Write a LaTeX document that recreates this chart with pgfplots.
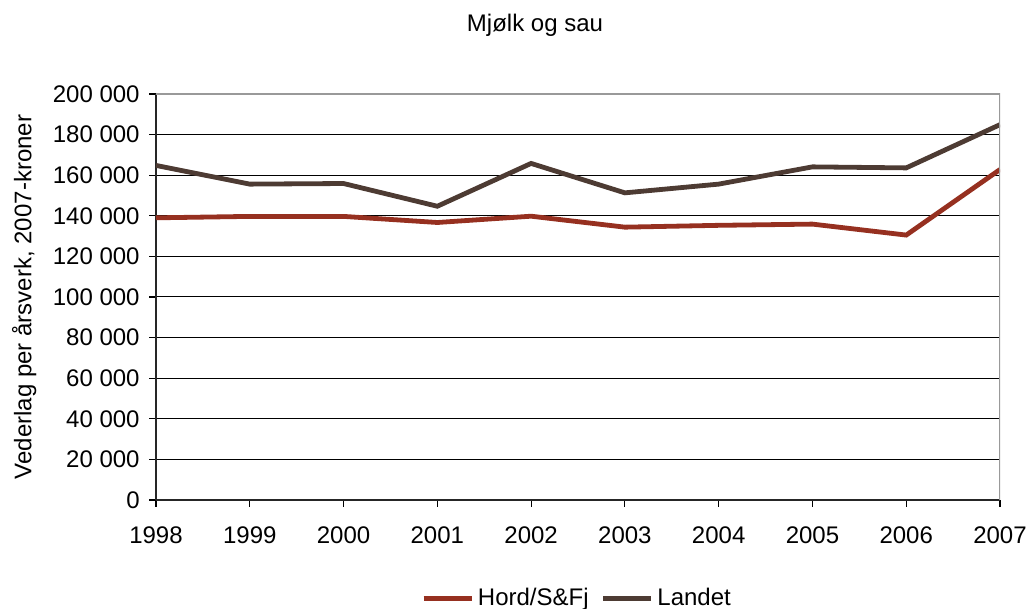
\documentclass[border=0pt]{standalone}
\usepackage{pgfplots}
\pgfplotsset{compat=1.18}
\usepackage{fontspec}
\setmainfont{Liberation Sans}
\definecolor{hord}{HTML}{963020}
\definecolor{landet}{HTML}{4D3B33}
\begin{document}
\fontsize{12}{14.4}\selectfont
\begin{tikzpicture}
\begin{axis}[
name=ax,
scale only axis,
width=422pt,
height=203pt,
xmin=1998, xmax=2007,
ymin=0, ymax=200000,
xtick={1998,1999,2000,2001,2002,2003,2004,2005,2006,2007},
xticklabels={1998,1999,2000,2001,2002,2003,2004,2005,2006,2007},
ytick={0,20000,40000,60000,80000,100000,120000,140000,160000,180000,200000},
yticklabels={0,20 000,40 000,60 000,80 000,100 000,120 000,140 000,160 000,180 000,200 000},
xticklabel style={yshift=-5.75pt},
yticklabel style={xshift=-0.5pt},
scaled y ticks=false,
axis x line*=bottom,
axis y line*=left,
axis line style={black!85, line width=1pt},
tick align=outside,
major tick length=3.5pt,
tick style={black, line width=0.6pt},
ymajorgrids,
grid style={black, line width=0.5pt},
title={Mjølk og sau},
title style={at={(0.5,1)}, anchor=center, yshift=28.25pt, xshift=-21.5pt},
ylabel={Vederlag per årsverk, 2007-kroner},
ylabel style={yshift=0pt},
legend columns=2,
legend style={at={(0.5,-0.242)}, anchor=center, draw=none, fill=none,
  /tikz/every even column/.append style={column sep=4pt}},
legend image code/.code={\draw[#1, line width=2.4pt] (0pt,0pt) -- (24pt,0pt);},
]
\addplot[hord, line width=2.4pt] coordinates {(1998,139000) (1999,139700) (2000,139700) (2001,136700) (2002,139800) (2003,134400) (2004,135300) (2005,135900) (2006,130500) (2007,162800)};
\addlegendentry{Hord/S\&Fj}
\addplot[landet, line width=2.4pt] coordinates {(1998,164800) (1999,155600) (2000,155900) (2001,144700) (2002,165800) (2003,151300) (2004,155600) (2005,164100) (2006,163600) (2007,184900)};
\addlegendentry{Landet}
\draw[gray!80, line width=1pt] (rel axis cs:0,1) -- (rel axis cs:1,1) -- (rel axis cs:1,0);
\end{axis}
\pgfresetboundingbox
\path ([xshift=-78pt,yshift=-54.5pt]ax.south west) rectangle ([xshift=14.5pt,yshift=47pt]ax.north east);
\end{tikzpicture}
\end{document}
